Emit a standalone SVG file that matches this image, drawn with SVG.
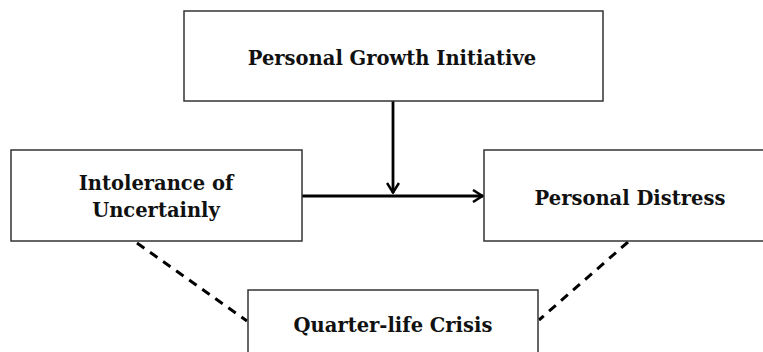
<svg xmlns="http://www.w3.org/2000/svg" width="763" height="352" viewBox="0 0 763 352">
<style>
.box{fill:#fff;stroke:#333;stroke-width:1.5}
.lbl{font-family:"DejaVu Serif","Liberation Serif",serif;font-weight:bold;font-size:19.5px;fill:#111;text-anchor:middle}
.arr{stroke:#000;stroke-width:2.8;fill:none}
.dash{stroke:#000;stroke-width:3;fill:none;stroke-dasharray:9 7}
</style>
<defs>
<marker id="chev" viewBox="0 0 12 14" refX="11" refY="7" markerWidth="12" markerHeight="14" markerUnits="userSpaceOnUse" orient="auto">
<path d="M1,1 L10.5,7 L1,13" fill="none" stroke="#000" stroke-width="2.5"/>
</marker>
</defs>
<g id="connectors">
<line class="dash" x1="137" y1="243" x2="247" y2="321"/>
<line class="dash" x1="628" y1="242" x2="539" y2="320"/>
<line class="arr" x1="302" y1="196" x2="483" y2="196" marker-end="url(#chev)"/>
<line class="arr" x1="393" y1="101" x2="393" y2="193" marker-end="url(#chev)"/>
</g>
<g id="pgi">
<rect class="box" x="184" y="11" width="419" height="90"/>
<text class="lbl" x="392" y="65">Personal Growth Initiative</text>
</g>
<g id="iou">
<rect class="box" x="11" y="150" width="291" height="91"/>
<text class="lbl" x="156" y="190">Intolerance of</text>
<text class="lbl" x="156" y="217">Uncertainly</text>
</g>
<g id="pd">
<rect class="box" x="484" y="150" width="290" height="91"/>
<text class="lbl" x="630" y="205">Personal Distress</text>
</g>
<g id="qlc">
<rect class="box" x="248" y="290" width="290" height="80"/>
<text class="lbl" x="393" y="332">Quarter-life Crisis</text>
</g>
</svg>
